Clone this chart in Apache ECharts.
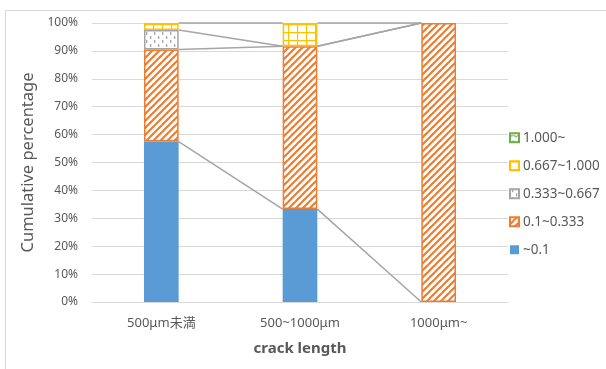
<!DOCTYPE html>
<html><head><meta charset="utf-8">
<script src="https://cdn.jsdelivr.net/npm/echarts@6/dist/echarts.min.js"></script>
<style>html,body{margin:0;padding:0;background:#fff}#c{width:606px;height:369px}</style>
</head><body><div id="c"></div>
<script>
const categories = ['500μm未満', '500~1000μm', '1000μm~'];
const seriesNames = ['~0.1', '0.1~0.333', '0.333~0.667', '0.667~1.000', '1.000~'];
const s1 = [0.575, 0.333, 0];
const s2 = [0.330, 0.584, 1.0];
const s3 = [0.070, 0, 0];
const s4 = [0.025, 0.083, 0];
const s5 = [0, 0, 0];
const yTicks = [0, 0.1, 0.2, 0.3, 0.4, 0.5, 0.6, 0.7, 0.8, 0.9, 1.0];

function pattern(w, h, draw) {
  const c = document.createElement('canvas'); c.width = w; c.height = h;
  const g = c.getContext('2d'); g.fillStyle = '#fff'; g.fillRect(0, 0, w, h); draw(g);
  return { image: c, repeat: 'repeat' };
}
const orangeP = pattern(7, 7, g => {
  g.strokeStyle = '#ED7D31'; g.lineWidth = 2.2;
  for (let k = -1; k <= 1; k++) { g.beginPath(); g.moveTo(k * 7 - 1, 8); g.lineTo(k * 7 + 8, -1); g.stroke(); }
});
const grayP = pattern(8, 8, g => {
  g.fillStyle = '#A5A5A5'; g.fillRect(2, 0, 1.3, 3); g.fillRect(6, 4, 1.3, 3);
});
const yellowP = pattern(9, 8, g => {
  g.strokeStyle = '#FFC000'; g.lineWidth = 1.3;
  g.beginPath(); g.moveTo(0.5, 0); g.lineTo(0.5, 8); g.moveTo(0, 0.5); g.lineTo(9, 0.5); g.stroke();
});
const greenP = pattern(6, 6, g => {
  g.strokeStyle = '#70AD47'; g.lineWidth = 1.2;
  g.beginPath(); g.moveTo(0, 4); g.quadraticCurveTo(3, 0, 6, 4); g.stroke();
});

const values = [s1, s2, s3, s4, s5];
const styles = [
  { color: '#5B9BD5' },
  { color: orangeP, borderColor: '#ED7D31', borderWidth: 1.5 },
  { color: grayP, borderColor: '#A5A5A5', borderWidth: 1.5 },
  { color: yellowP, borderColor: '#FFC000', borderWidth: 1.5 },
  { color: greenP, borderColor: '#70AD47', borderWidth: 1 }
];
const barW = 0.25;
const barSeries = values.map((arr, i) => ({
  name: seriesNames[i], type: 'bar', stack: 'a', barWidth: (barW * 100) + '%',
  data: arr.map(v => v === 0 ? null : v), itemStyle: styles[i], z: 3
}));
// series lines connecting the tops of each stacked level
const cum = [];
let run = categories.map(() => 0);
values.slice(0, 4).forEach(arr => { run = run.map((r, j) => r + arr[j]); cum.push(run.slice()); });
const lineData = [];
cum.forEach(level => { for (let j = 0; j < categories.length - 1; j++) lineData.push([j, level[j], level[j + 1]]); });

const lineSeries = {
  type: 'custom', name: 'lines', data: lineData, z: 2, silent: true,
  encode: { x: 0, y: 1 },
  renderItem: (params, api) => {
    const p1 = api.coord([api.value(0), api.value(1)]);
    const p2 = api.coord([api.value(0) + 1, api.value(2)]);
    const hw = api.size([1, 0])[0] * barW / 2;
    return { type: 'line', shape: { x1: p1[0] + hw, y1: p1[1], x2: p2[0] - hw, y2: p2[1] },
      style: { stroke: '#A5A5A5', lineWidth: 1.5 } };
  }
};

const font = "'Noto Sans', 'Noto Sans CJK JP', sans-serif";
const chart = echarts.init(document.getElementById('c'));
chart.setOption({
  animation: false,
  textStyle: { fontFamily: font },
  graphic: [{ type: 'rect', shape: { x: 5.5, y: 10.5, width: 610, height: 370 }, style: { fill: 'none', stroke: '#D9D9D9', lineWidth: 1 }, silent: true }],
  grid: { left: 92, right: 98, top: 23, bottom: 67 },
  legend: {
    orient: 'vertical', left: 504, top: 126, itemWidth: 9, itemHeight: 9, itemGap: 14.5,
    data: seriesNames.slice().reverse(), icon: 'rect',
    textStyle: { color: '#595959', fontSize: 13.5, fontFamily: font, padding: [0, 0, 0, -1] }
  },
  xAxis: {
    type: 'category', data: categories,
    axisLine: { lineStyle: { color: '#D9D9D9', width: 1 } }, axisTick: { show: false },
    axisLabel: { color: '#595959', fontSize: 13, margin: 15 },
    name: 'crack length', nameLocation: 'middle', nameGap: 39,
    nameTextStyle: { color: '#595959', fontSize: 15, fontWeight: 'bold' }
  },
  yAxis: {
    type: 'value', min: yTicks[0], max: yTicks[yTicks.length - 1], interval: 0.1,
    axisLine: { show: false }, axisTick: { show: false },
    splitLine: { lineStyle: { color: '#D9D9D9', width: 1 } },
    axisLabel: { color: '#595959', fontSize: 12, margin: 14, formatter: v => Math.round(v * 100) + '%' },
    name: 'Cumulative percentage', nameLocation: 'middle', nameGap: 42,
    nameTextStyle: { color: '#595959', fontSize: 16.5 }
  },
  series: [lineSeries, ...barSeries]
});
</script></body></html>
